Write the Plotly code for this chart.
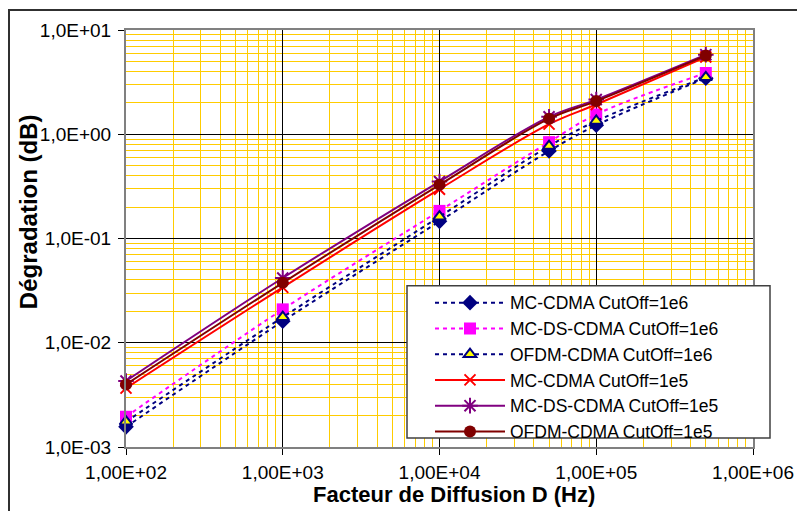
import plotly.graph_objects as go

# ---- data ----
x_hz = [1e2, 1e3, 1e4, 5e4, 1e5, 5e5]

mc_cdma_1e6 = [1.56e-3, 0.0161, 0.146, 0.69, 1.22, 3.45]
mc_ds_cdma_1e6 = [1.95e-3, 0.0209, 0.184, 0.84, 1.55, 3.87]
ofdm_cdma_1e6 = [1.75e-3, 0.0176, 0.162, 0.77, 1.34, 3.52]
mc_cdma_1e5 = [3.67e-3, 0.034, 0.297, 1.25, 1.93, 5.5]
mc_ds_cdma_1e5 = [4.3e-3, 0.0418, 0.352, 1.47, 2.15, 5.8]
ofdm_cdma_1e5 = [3.98e-3, 0.0376, 0.327, 1.41, 2.08, 5.68]

series_names = [
    "MC-CDMA CutOff=1e6",
    "MC-DS-CDMA CutOff=1e6",
    "OFDM-CDMA CutOff=1e6",
    "MC-CDMA CutOff=1e5",
    "MC-DS-CDMA CutOff=1e5",
    "OFDM-CDMA CutOff=1e5",
]

x_tickvals = [1e2, 1e3, 1e4, 1e5, 1e6]
x_ticktext = ["1,00E+02", "1,00E+03", "1,00E+04", "1,00E+05", "1,00E+06"]
y_tickvals = [1e-3, 1e-2, 1e-1, 1e0, 1e1]
y_ticktext = ["1,0E-03", "1,0E-02", "1,0E-01", "1,0E+00", "1,0E+01"]

x_title = "Facteur de Diffusion D (Hz)"
y_title = "Dégradation (dB)"

# ---- styles ----
FONT = "Liberation Sans, Arial, sans-serif"
NAVY = "#000080"
MAGENTA = "#FF00FF"
RED = "#FF0000"
PURPLE = "#800080"
DARKRED = "#800000"
GOLD = "#FFCC00"

styles = [
    dict(line=dict(color=NAVY, width=2, dash="4px,4px", shape="spline"),
         marker=dict(symbol="diamond", size=12, color=NAVY)),
    dict(line=dict(color=MAGENTA, width=2, dash="4px,4px", shape="spline"),
         marker=dict(symbol="square", size=12, color=MAGENTA)),
    dict(line=dict(color=NAVY, width=2, dash="4px,4px", shape="spline"),
         marker=dict(symbol="triangle-up", size=11, color="#FFFF00",
                     line=dict(color=NAVY, width=2))),
    dict(line=dict(color=RED, width=2, shape="spline"),
         marker=dict(symbol="x-thin", size=11, color=RED,
                     line=dict(color=RED, width=2))),
    dict(line=dict(color=PURPLE, width=2, shape="spline"),
         marker=dict(symbol="asterisk", size=13, color=PURPLE,
                     line=dict(color=PURPLE, width=2))),
    dict(line=dict(color=DARKRED, width=2, shape="spline"),
         marker=dict(symbol="circle", size=12, color=DARKRED)),
]

all_series = [mc_cdma_1e6, mc_ds_cdma_1e6, ofdm_cdma_1e6,
              mc_cdma_1e5, mc_ds_cdma_1e5, ofdm_cdma_1e5]

fig = go.Figure()
for name, ys, st in zip(series_names, all_series, styles):
    fig.add_trace(go.Scatter(x=x_hz, y=ys, name=name, mode="lines+markers",
                             line=st["line"], marker=st["marker"],
                             cliponaxis=False))

# page offset of the figure (body margin)
OFF = 8
W, H = 805, 511
# plot area in page pixels: x 126..753, y 28..447
L = 126 - OFF
T = 28 - OFF
PW, PH = 627, 419
R = W - L - PW
B = H - T - PH


def px_x(p):
    return (p - OFF - L) / PW


def px_y(p):
    return (T + PH - (p - OFF)) / PH


axis_common = dict(
    type="log",
    showline=True, linecolor="#808080", linewidth=2, mirror=True,
    showgrid=True, gridcolor="#000000", gridwidth=1,
    ticks="outside", ticklen=6, tickcolor="#000000", tickwidth=1,
    tickfont=dict(family=FONT, size=19, color="#000000"),
    minor=dict(showgrid=True, gridcolor=GOLD, gridwidth=1, dtick="D1", ticks=""),
    zeroline=False,
)

fig.update_layout(
    width=W, height=H,
    margin=dict(l=L, r=R, t=T, b=B),
    paper_bgcolor="#FFFFFF", plot_bgcolor="#FFFFFF",
    font=dict(family=FONT, size=19, color="#000000"),
    showlegend=True,
    xaxis=dict(axis_common, range=[2, 6], tickvals=x_tickvals, ticktext=x_ticktext,
               ticklabelstandoff=1),
    yaxis=dict(axis_common, range=[-3, 1], tickvals=y_tickvals, ticktext=y_ticktext,
               ticklabelstandoff=3),
    legend=dict(
        x=px_x(430), y=px_y(284), xanchor="left", yanchor="top",
        bgcolor="rgba(0,0,0,0)", borderwidth=0,
        font=dict(family=FONT, size=17.5, color="#000000"),
        itemwidth=70, tracegroupgap=0,
    ),
    shapes=[
        # legend box
        dict(type="rect", xref="paper", yref="paper",
             x0=px_x(407), x1=px_x(770), y0=px_y(285), y1=px_y(438),
             fillcolor="#FFFFFF", line=dict(color="#404040", width=1.5),
             layer="above"),
        # outer chart frame
        dict(type="rect", xref="paper", yref="paper",
             x0=px_x(9), x1=px_x(830), y0=px_y(8), y1=px_y(540),
             fillcolor="rgba(0,0,0,0)", line=dict(color="#303030", width=2),
             layer="above"),
    ],
    annotations=[
        dict(text=x_title, xref="paper", yref="paper", x=px_x(454), y=px_y(495),
             xanchor="center", yanchor="middle", showarrow=False,
             font=dict(family=FONT, size=22, color="#000000", weight="bold")),
        dict(text=y_title, xref="paper", yref="paper", x=px_x(28), y=px_y(211),
             xanchor="center", yanchor="middle", showarrow=False, textangle=-90,
             font=dict(family=FONT, size=24, color="#000000", weight="bold")),
    ],
)

fig.write_html("out.html")
